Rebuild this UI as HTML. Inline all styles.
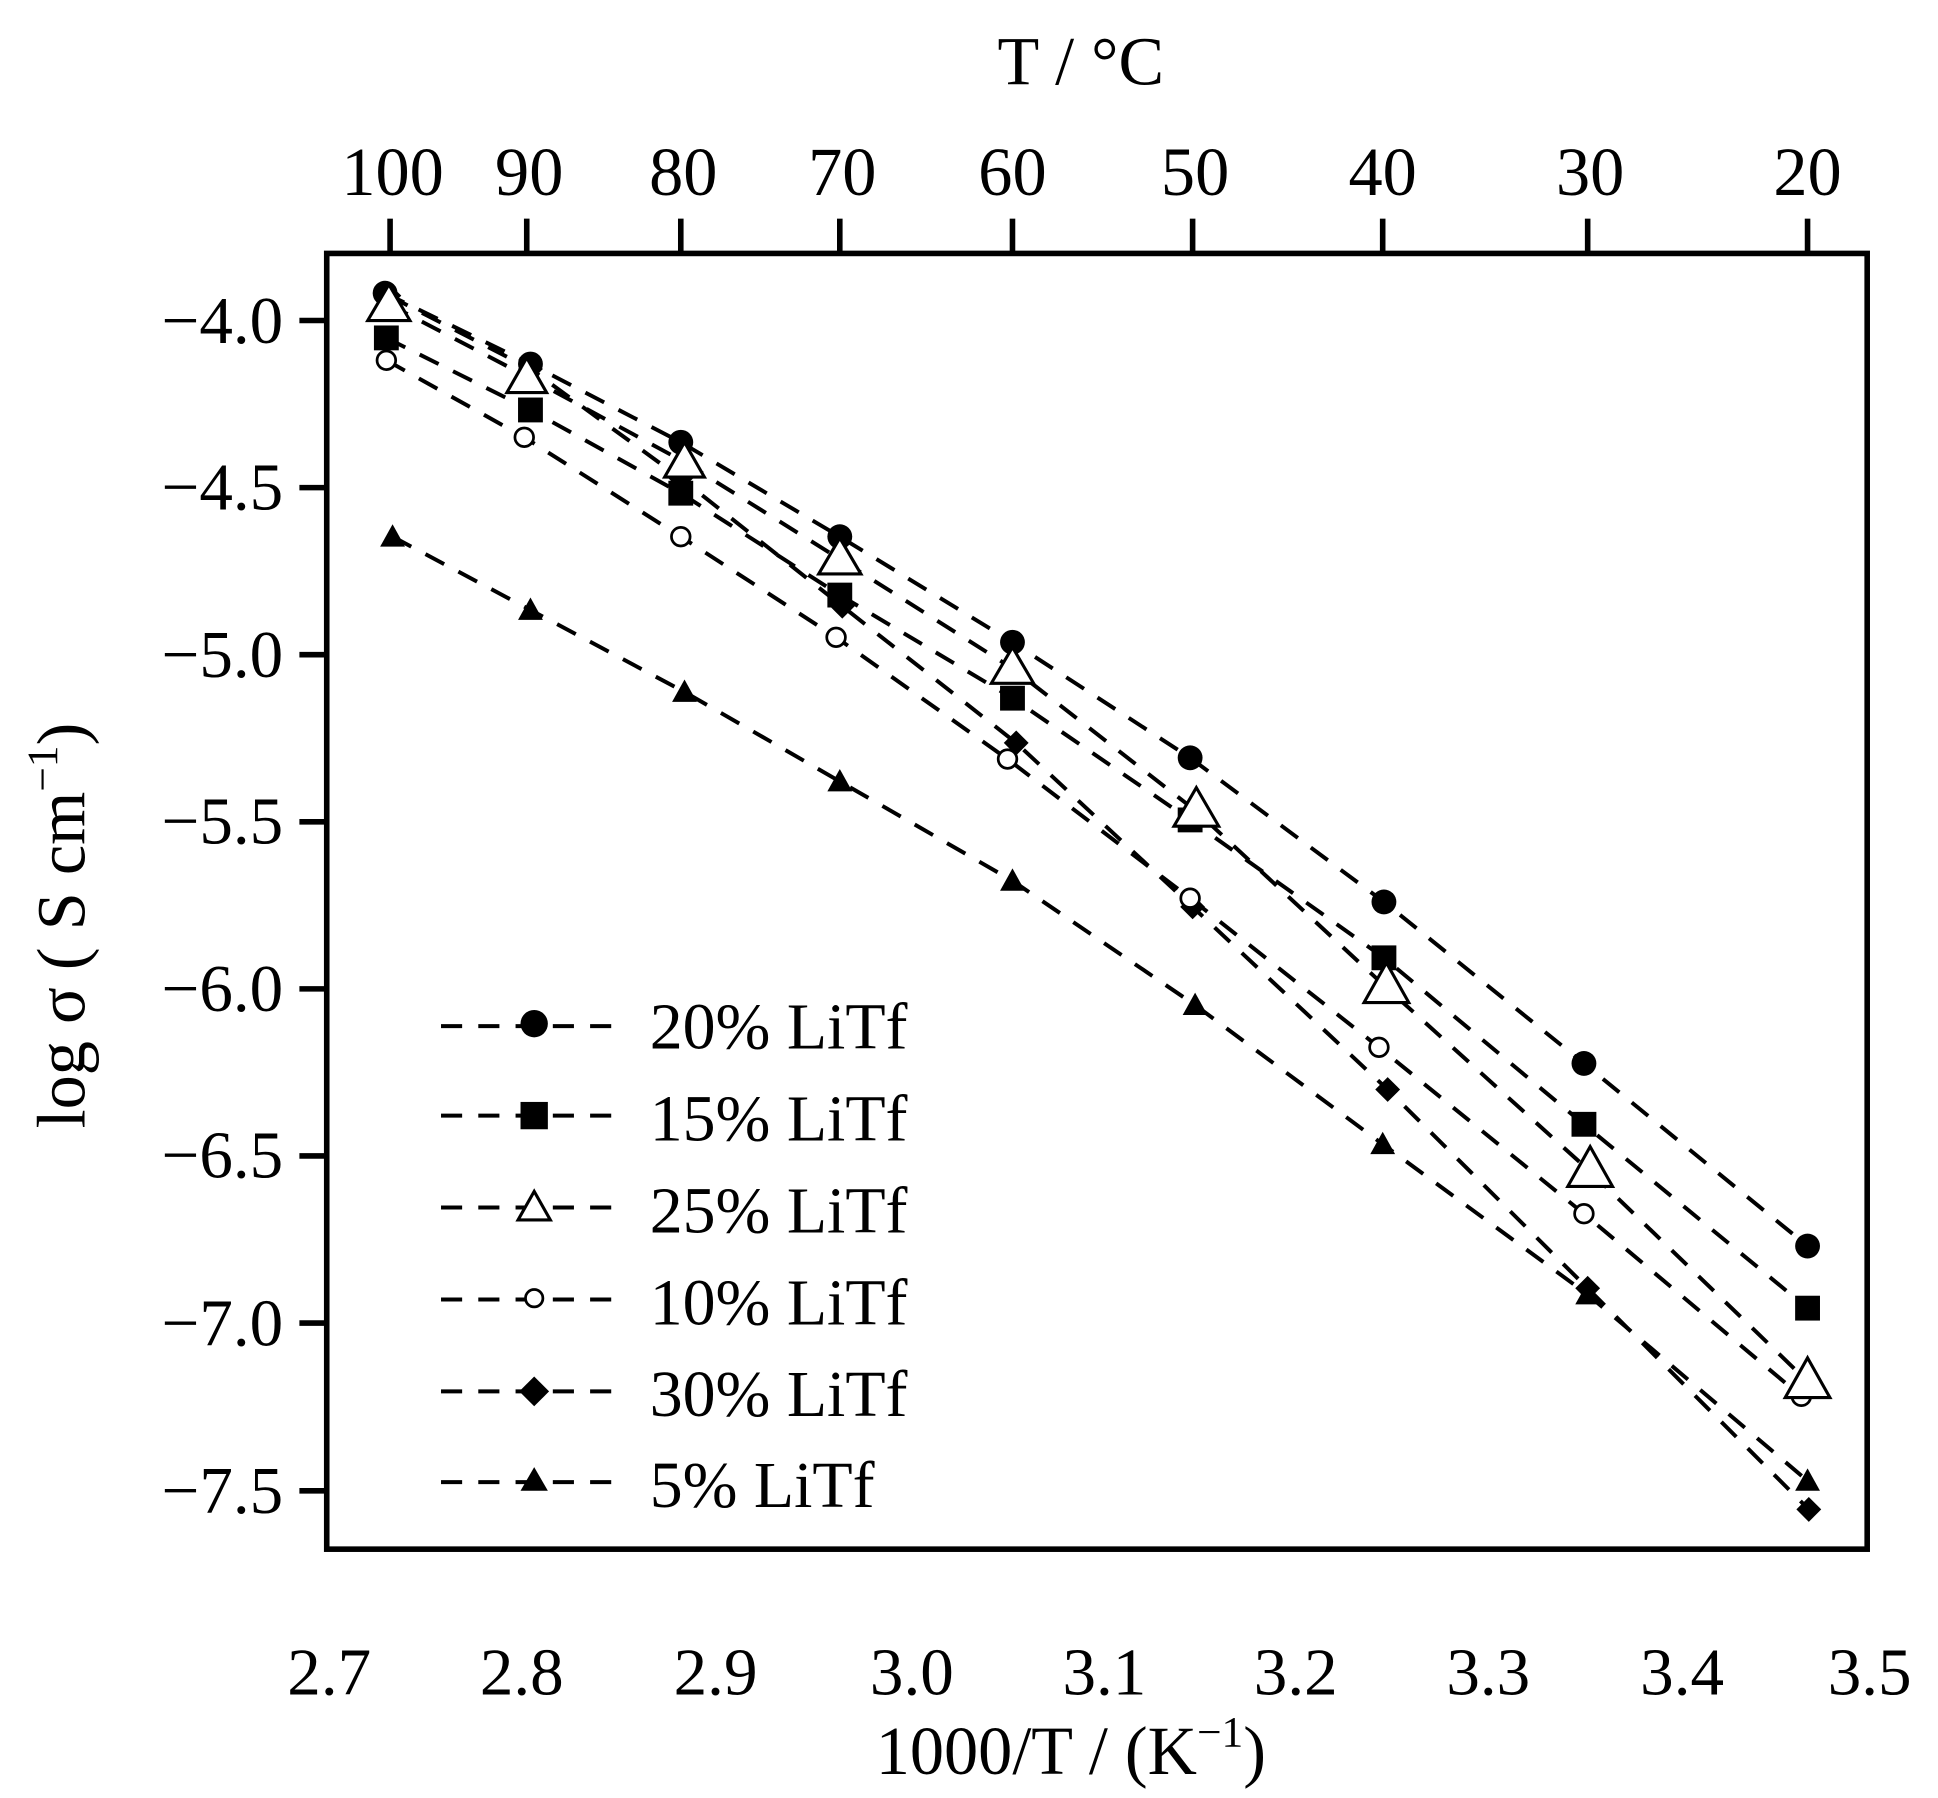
<!DOCTYPE html>
<html><head><meta charset="utf-8"><style>
html,body{margin:0;padding:0;background:#fff;width:1938px;height:1798px;overflow:hidden}
svg{display:block}
text{font-family:"Liberation Serif",serif;fill:#000}
</style></head><body>
<svg width="1938" height="1798" viewBox="0 0 1560 1447.3" preserveAspectRatio="none">
<defs>
<clipPath id="c"><rect x="263" y="204" width="1240" height="1043"/></clipPath>
</defs>
<g fill="none" stroke="#000" stroke-width="3.2" stroke-dasharray="17 13" clip-path="url(#c)">
<polyline points="310,236 427,293 548,356 676,432 815,517 958,610 1114,726 1275,856 1455,1003"/>
<polyline points="311,272 427,330 548,397 676,479 815,562 958,660 1114,771 1275,905 1455,1053"/>
<polyline points="313,245 424,303 551,372 676,450 815,538 963,653 1116,795 1280,943 1455,1112"/>
<polyline points="311,290 422,352 548,432 673,513 811,611 958,723 1110,843 1275,977 1450,1124"/>
<polyline points="313,238 427,297 548,385 678,488 818,598 960,730 1117,877 1278,1037 1456,1215"/>
<polyline points="316,432 427,491 551,557 676,629 815,709 962,809 1113,921 1278,1042 1455,1192"/>
</g>
<g fill="#000">
<polygon points="316,422 326,440 306,440"/><polygon points="427,481 437,499 417,499"/><polygon points="551,547 561,565 541,565"/><polygon points="676,619 686,637 666,637"/><polygon points="815,699 825,717 805,717"/><polygon points="962,799 972,817 952,817"/><polygon points="1113,911 1123,929 1103,929"/><polygon points="1278,1032 1288,1050 1268,1050"/><polygon points="1455,1182 1465,1200 1445,1200"/>
<polygon points="313,228 323,238 313,248 303,238"/><polygon points="427,287 437,297 427,307 417,297"/><polygon points="548,375 558,385 548,395 538,385"/><polygon points="678,478 688,488 678,498 668,488"/><polygon points="818,588 828,598 818,608 808,598"/><polygon points="960,720 970,730 960,740 950,730"/><polygon points="1117,867 1127,877 1117,887 1107,877"/><polygon points="1278,1027 1288,1037 1278,1047 1268,1037"/><polygon points="1456,1205 1466,1215 1456,1225 1446,1215"/>
<rect x="301" y="262" width="20" height="20"/><rect x="417" y="320" width="20" height="20"/><rect x="538" y="387" width="20" height="20"/><rect x="666" y="469" width="20" height="20"/><rect x="805" y="552" width="20" height="20"/><rect x="948" y="650" width="20" height="20"/><rect x="1104" y="761" width="20" height="20"/><rect x="1265" y="895" width="20" height="20"/><rect x="1445" y="1043" width="20" height="20"/>
<circle cx="310" cy="236" r="10"/><circle cx="427" cy="293" r="10"/><circle cx="548" cy="356" r="10"/><circle cx="676" cy="432" r="10"/><circle cx="815" cy="517" r="10"/><circle cx="958" cy="610" r="10"/><circle cx="1114" cy="726" r="10"/><circle cx="1275" cy="856" r="10"/><circle cx="1455" cy="1003" r="10"/>
</g>
<g fill="#fff" stroke="#000" stroke-width="2.2">
<circle cx="311" cy="290" r="7.5"/><circle cx="422" cy="352" r="7.5"/><circle cx="548" cy="432" r="7.5"/><circle cx="673" cy="513" r="7.5"/><circle cx="811" cy="611" r="7.5"/><circle cx="958" cy="723" r="7.5"/><circle cx="1110" cy="843" r="7.5"/><circle cx="1275" cy="977" r="7.5"/><circle cx="1450" cy="1124" r="7.5"/>
</g>
<g fill="#fff" stroke="#000" stroke-width="2.5">
<polygon points="313,229 330,258 296,258"/><polygon points="424,288 440,316 408,316"/><polygon points="551,356 567,384 535,384"/><polygon points="676,433 693,462 659,462"/><polygon points="815,521 832,550 798,550"/><polygon points="963,634 981,665 945,665"/><polygon points="1116,775 1134,807 1098,807"/><polygon points="1280,923 1298,955 1262,955"/><polygon points="1455,1093 1473,1125 1437,1125"/>
</g>
<rect x="263" y="204" width="1240" height="1043" fill="none" stroke="#000" stroke-width="4.5"/>
<g stroke="#000" stroke-width="4.5">
<line x1="314" y1="204" x2="314" y2="176"/><line x1="424" y1="204" x2="424" y2="176"/><line x1="548" y1="204" x2="548" y2="176"/><line x1="676" y1="204" x2="676" y2="176"/><line x1="815" y1="204" x2="815" y2="176"/><line x1="960" y1="204" x2="960" y2="176"/><line x1="1113" y1="204" x2="1113" y2="176"/><line x1="1278" y1="204" x2="1278" y2="176"/><line x1="1455" y1="204" x2="1455" y2="176"/>
<line x1="263" y1="258" x2="241" y2="258"/><line x1="263" y1="392.5" x2="241" y2="392.5"/><line x1="263" y1="527" x2="241" y2="527"/><line x1="263" y1="661.5" x2="241" y2="661.5"/><line x1="263" y1="796" x2="241" y2="796"/><line x1="263" y1="930.5" x2="241" y2="930.5"/><line x1="263" y1="1065" x2="241" y2="1065"/><line x1="263" y1="1200" x2="241" y2="1200"/>
</g>
<g font-size="55" text-anchor="middle">
<text x="870" y="68">T / °C</text>
<text x="316" y="157">100</text><text x="426" y="157">90</text><text x="550" y="157">80</text><text x="678" y="157">70</text><text x="815" y="157">60</text><text x="962" y="157">50</text><text x="1113" y="157">40</text><text x="1280" y="157">30</text><text x="1455" y="157">20</text>
</g>
<g font-size="54" text-anchor="end">
<text x="228" y="276">−4.0</text><text x="228" y="410">−4.5</text><text x="228" y="545">−5.0</text><text x="228" y="679">−5.5</text><text x="228" y="814">−6.0</text><text x="228" y="948">−6.5</text><text x="228" y="1083">−7.0</text><text x="228" y="1218">−7.5</text>
</g>
<text font-size="55" text-anchor="middle" transform="translate(68,745) rotate(-90)">log σ ( S cm<tspan dy="-22" font-size="35">−1</tspan><tspan dy="22">)</tspan></text>
<g font-size="54" text-anchor="middle">
<text x="265" y="1364">2.7</text><text x="420" y="1364">2.8</text><text x="576" y="1364">2.9</text><text x="734" y="1364">3.0</text><text x="889" y="1364">3.1</text><text x="1043" y="1364">3.2</text><text x="1198" y="1364">3.3</text><text x="1354" y="1364">3.4</text><text x="1505" y="1364">3.5</text>
</g>
<text x="862" y="1428" font-size="55" text-anchor="middle">1000/T / (K<tspan dy="-22" font-size="35">−1</tspan><tspan dy="22">)</tspan></text>
<g stroke="#000" stroke-width="3.2" stroke-dasharray="17 13">
<line x1="355" y1="826" x2="500" y2="826"/><line x1="355" y1="898" x2="500" y2="898"/><line x1="355" y1="972" x2="500" y2="972"/><line x1="355" y1="1046" x2="500" y2="1046"/><line x1="355" y1="1120" x2="500" y2="1120"/><line x1="355" y1="1193" x2="500" y2="1193"/>
</g>
<circle cx="430" cy="824" r="11" fill="#000"/>
<rect x="419" y="887" width="22" height="22" fill="#000"/>
<polygon points="430,959 443,982 417,982" fill="#fff" stroke="#000" stroke-width="2.5"/>
<circle cx="430" cy="1045" r="7" fill="#fff" stroke="#000" stroke-width="2.2"/>
<polygon points="430,1108 442,1120 430,1132 418,1120" fill="#000"/>
<polygon points="430,1181 441,1200 419,1200" fill="#000"/>
<g font-size="53">
<text x="523" y="844">20% LiTf</text><text x="523" y="918">15% LiTf</text><text x="523" y="992">25% LiTf</text><text x="523" y="1066">10% LiTf</text><text x="523" y="1140">30% LiTf</text><text x="523" y="1213">5% LiTf</text>
</g>
</svg>
</body></html>
